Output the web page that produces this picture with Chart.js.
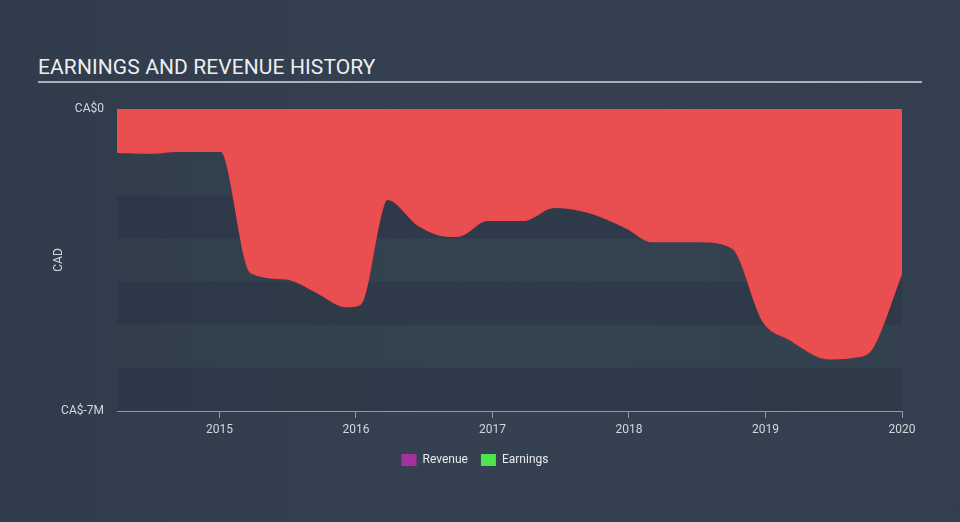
<!DOCTYPE html>
<html>
<head>
<meta charset="utf-8">
<script src="https://cdn.jsdelivr.net/npm/chart.js@4"></script>
<style>
  html, body { margin: 0; padding: 0; }
  body {
    width: 960px; height: 522px; overflow: hidden;
    background: linear-gradient(90deg, #303c4b 0%, #354150 50%, #333f4e 100%);
    font-family: Roboto, "Noto Sans", sans-serif;
    position: relative;
  }
  #title {
    position: absolute; left: 38px; top: 55px; width: 884px;
    color: #eceef0; font-size: 21px; letter-spacing: 0.1px;
    padding-bottom: 2px; border-bottom: 2px solid #a9b0b8;
    line-height: 24px;
  }
  #wrap { position: absolute; left: 0; top: 0; width: 960px; height: 522px; }
</style>
</head>
<body>
<div id="title">EARNINGS AND REVENUE HISTORY</div>
<div id="wrap"><canvas id="myChart" width="960" height="522"></canvas></div>
<script>
// dates as decimal years, values in CA$ millions
var dates = [2014.25, 2014.49, 2014.69, 2015.01, 2015.23, 2015.48, 2015.72, 2015.92,
  2016.03, 2016.23, 2016.46, 2016.68, 2016.77, 2016.96, 2017.23, 2017.45, 2017.71,
  2017.99, 2018.16, 2018.51, 2018.76, 2018.98, 2019.17, 2019.47, 2019.67, 2019.77, 2020.0];
var earnings = [-1.00, -1.02, -0.98, -0.98, -3.79, -3.93, -4.26, -4.58,
  -4.53, -2.09, -2.70, -2.95, -2.93, -2.58, -2.58, -2.28, -2.40,
  -2.77, -3.07, -3.07, -3.23, -4.91, -5.33, -5.79, -5.74, -5.60, -3.79];
var revenue = [];
var yearTicks = [2015, 2016, 2017, 2018, 2019, 2020];
var yTicks = [-7, 0];
var yLabels = { "-7": "CA$-7M", "0": "CA$0" };

var earningsPoints = dates.map(function (d, i) { return { x: d, y: earnings[i] }; });

// alternating horizontal bands behind the data
var bandsPlugin = {
  id: 'bands',
  beforeDatasetsDraw: function (chart) {
    var ctx = chart.ctx, area = chart.chartArea, y = chart.scales.y;
    ctx.save();
    for (var v = 0; v > -7; v--) {
      var top = y.getPixelForValue(v), bottom = y.getPixelForValue(v - 1);
      var dark = ((-v) % 2 === 0) && v !== 0;
      ctx.fillStyle = dark ? 'rgba(36,48,62,0.35)' : 'rgba(60,72,86,0.12)';
      ctx.fillRect(area.left, top, area.right - area.left, bottom - top);
    }
    ctx.restore();
  }
};

Chart.defaults.font.family = 'Roboto, "Noto Sans", sans-serif';
Chart.defaults.color = '#d4d8dc';

var ctx = document.getElementById('myChart').getContext('2d');
var myChart = new Chart(ctx, {
  type: 'line',
  data: {
    datasets: [
      {
        label: 'Revenue',
        data: revenue,
        backgroundColor: '#a3319e',
        borderColor: '#a3319e'
      },
      {
        label: 'Earnings',
        data: earningsPoints,
        borderColor: '#f24a4b',
        backgroundColor: '#e94f51',
        borderWidth: 1.5,
        fill: 'origin',
        pointRadius: 0,
        cubicInterpolationMode: 'monotone'
      }
    ]
  },
  options: {
    responsive: false,
    animation: false,
    layout: { padding: { left: 48, right: 58, top: 109, bottom: 46 } },
    plugins: {
      legend: {
        position: 'bottom',
        labels: {
          boxWidth: 15, boxHeight: 12, padding: 13,
          color: '#e8eaec', font: { size: 12 },
          generateLabels: function (chart) {
            return chart.data.datasets.map(function (ds, i) {
              var c = i === 0 ? '#a3319e' : '#4ee44e';
              return { text: ds.label, fillStyle: c, strokeStyle: c, lineWidth: 0, datasetIndex: i, fontColor: '#e8eaec' };
            });
          }
        },
        onClick: null
      },
      tooltip: { enabled: false }
    },
    scales: {
      x: {
        type: 'linear',
        min: 2014.25,
        max: 2020,
        afterBuildTicks: function (scale) {
          scale.ticks = yearTicks.map(function (v) { return { value: v }; });
        },
        afterFit: function (scale) { scale.height = 30; },
        grid: { drawOnChartArea: false, drawTicks: true, tickLength: 7, color: '#8f9aa6' },
        border: { color: '#8f9aa6', width: 1 },
        ticks: {
          padding: 5, color: '#d4d8dc', font: { size: 12 },
          maxRotation: 0, autoSkip: false,
          callback: function (v) { return String(v); }
        }
      },
      y: {
        min: -7,
        max: 0,
        afterBuildTicks: function (scale) {
          scale.ticks = yTicks.map(function (v) { return { value: v }; });
        },
        afterFit: function (scale) { scale.width = 69; },
        grid: { display: false, drawTicks: false },
        border: { display: false },
        ticks: {
          padding: 13, color: '#d4d8dc', font: { size: 12 },
          autoSkip: false,
          callback: function (v) { return yLabels[String(v)]; }
        },
        title: { display: true, text: 'CAD', color: '#d4d8dc', font: { size: 12 }, padding: 4 }
      }
    }
  },
  plugins: [bandsPlugin]
});
</script>
</body>
</html>
